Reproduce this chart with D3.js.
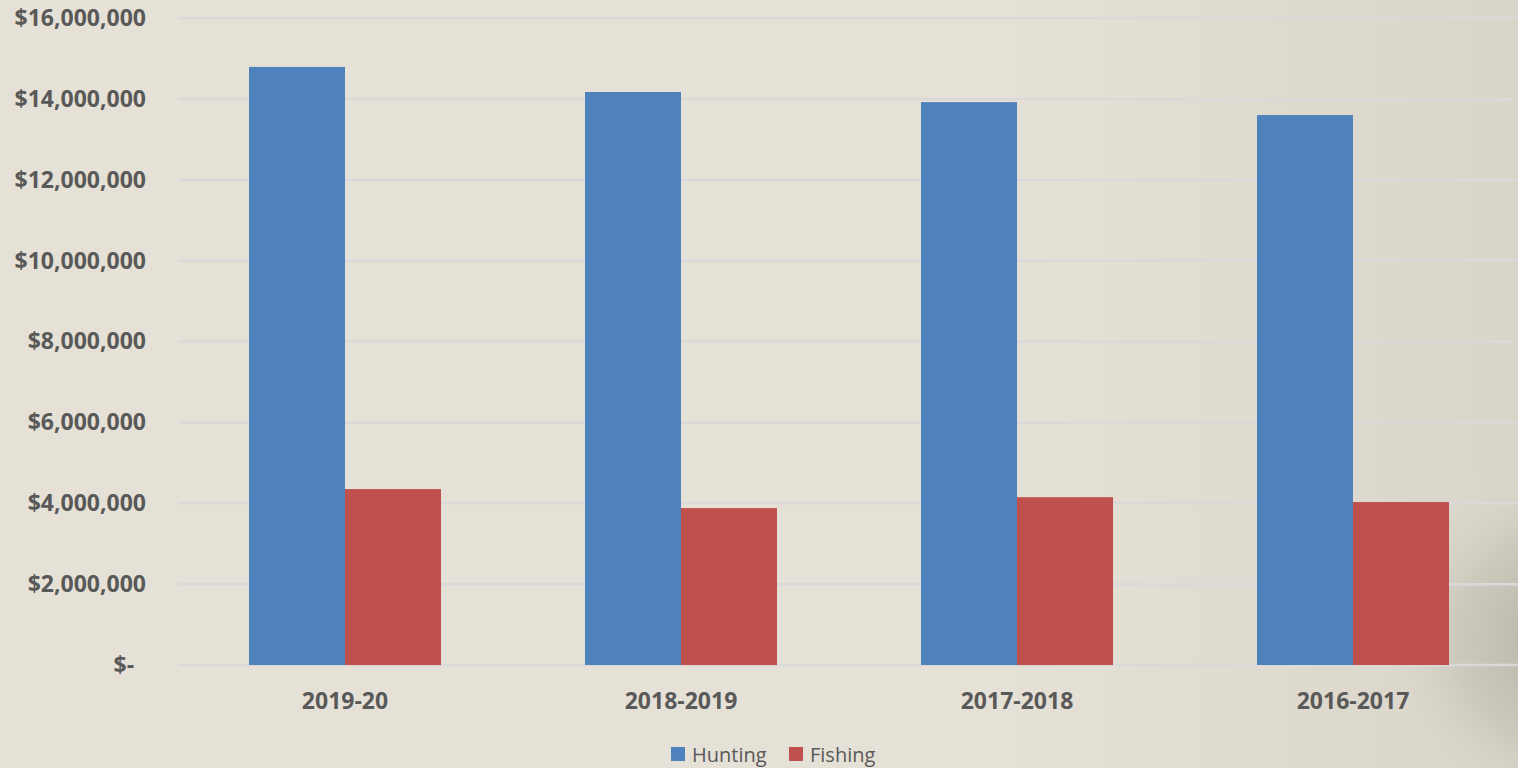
<!DOCTYPE html>
<html lang="en">
  <head>
    <meta charset="utf-8" />
    <title>Hunting and Fishing</title>
    <script type="text/javascript" src="https://d3js.org/d3.v7.min.js"></script>
    <style>
      body {
        margin: 0;
        overflow: hidden;
      }
      .axis text {
        font-family: "Open Sans", sans-serif;
        font-weight: bold;
        font-size: 23px;
        fill: #595959;
      }
      .grid line {
        stroke: #d9d9d9;
        stroke-width: 2.5px;
      }
      .legend text {
        font-family: "Open Sans", sans-serif;
        font-size: 20px;
        fill: #595959;
      }
    </style>
  </head>

  <body>
    <script>
      // data
      let years = ["2019-20", "2018-2019", "2017-2018", "2016-2017"];
      let seriesNames = ["Hunting", "Fishing"];
      let hunting = [14790000, 14170000, 13920000, 13600000];
      let fishing = [4350000, 3880000, 4150000, 4030000];
      let yTicks = [0, 2000000, 4000000, 6000000, 8000000, 10000000, 12000000, 14000000, 16000000];
      let colors = ["#4f81bd", "#c0504d"];

      let w = 1518;
      let h = 768;

      let rows = years.map((y, i) => ({ year: y, Hunting: hunting[i], Fishing: fishing[i] }));

      let svg = d3.select("body").append("svg").attr("width", w).attr("height", h);

      // paper background, a bit greyer to the right, with a fold shadow at the right edge
      let defs = svg.append("defs");
      let lg = defs
        .append("linearGradient")
        .attr("id", "side")
        .attr("gradientUnits", "userSpaceOnUse")
        .attr("x1", 1000)
        .attr("x2", w)
        .attr("y1", 0)
        .attr("y2", 0);
      lg.append("stop").attr("offset", "0").attr("stop-color", "#cfcbbf").attr("stop-opacity", 0);
      lg.append("stop").attr("offset", "1").attr("stop-color", "#cfcbbf").attr("stop-opacity", 0.55);

      let rg = defs
        .append("radialGradient")
        .attr("id", "shade")
        .attr("gradientUnits", "userSpaceOnUse")
        .attr("cx", 1560)
        .attr("cy", 640)
        .attr("r", 190);
      rg.append("stop").attr("offset", "0").attr("stop-color", "#a8a599").attr("stop-opacity", 0.8);
      rg.append("stop").attr("offset", "0.55").attr("stop-color", "#bdb9ad").attr("stop-opacity", 0.45);
      rg.append("stop").attr("offset", "1").attr("stop-color", "#e6e1d6").attr("stop-opacity", 0);

      svg.append("rect").attr("width", w).attr("height", h).attr("fill", "#e6e1d6");
      svg.append("rect").attr("width", w).attr("height", h).attr("fill", "url(#side)");
      svg.append("rect").attr("width", w).attr("height", h).attr("fill", "url(#shade)");

      let x_scale = d3
        .scaleBand()
        .domain(years)
        .range([177, 1521])
        .paddingInner(0.4286)
        .paddingOuter(0.2143);

      let x_inner = d3.scaleBand().domain(seriesNames).range([0, x_scale.bandwidth()]);

      let y_scale = d3.scaleLinear().domain([0, 16000000]).range([665, 18]);

      // gridlines
      svg
        .append("g")
        .attr("class", "grid")
        .selectAll("line")
        .data(yTicks)
        .join("line")
        .attr("x1", 178)
        .attr("x2", w)
        .attr("y1", (d) => y_scale(d))
        .attr("y2", (d) => y_scale(d));

      // bars
      let groups = svg
        .append("g")
        .selectAll("g")
        .data(rows)
        .join("g")
        .attr("transform", (d) => `translate(${x_scale(d.year)},0)`);

      groups
        .selectAll("rect")
        .data((d) => seriesNames.map((s) => ({ key: s, value: d[s] })))
        .join("rect")
        .attr("x", (d) => x_inner(d.key))
        .attr("width", x_inner.bandwidth())
        .attr("y", (d) => y_scale(d.value))
        .attr("height", (d) => y_scale(0) - y_scale(d.value))
        .attr("fill", (d, i) => colors[i]);

      let fmt = d3.format(",");
      let y_axis = d3
        .axisLeft(y_scale)
        .tickValues(yTicks)
        .tickSize(0)
        .tickPadding(0)
        .tickFormat((d) => (d === 0 ? "$-\u00a0\u00a0" : "$" + fmt(d)));

      svg
        .append("g")
        .attr("class", "y axis")
        .attr("transform", "translate(146,0)")
        .call(y_axis)
        .call((g) => g.select(".domain").remove());

      let x_axis = d3.axisBottom(x_scale).tickSize(0).tickPadding(0);

      svg
        .append("g")
        .attr("class", "x axis")
        .attr("transform", "translate(0,693)")
        .call(x_axis)
        .call((g) => g.select(".domain").remove());

      // legend
      let legend = svg.append("g").attr("class", "legend");
      let legendX = [671, 789];
      seriesNames.forEach((s, i) => {
        legend
          .append("rect")
          .attr("x", legendX[i])
          .attr("y", 747)
          .attr("width", 14)
          .attr("height", 14)
          .attr("fill", colors[i]);
        legend
          .append("text")
          .attr("x", legendX[i] + 21)
          .attr("y", 762)
          .text(s);
      });
    </script>
  </body>
</html>
